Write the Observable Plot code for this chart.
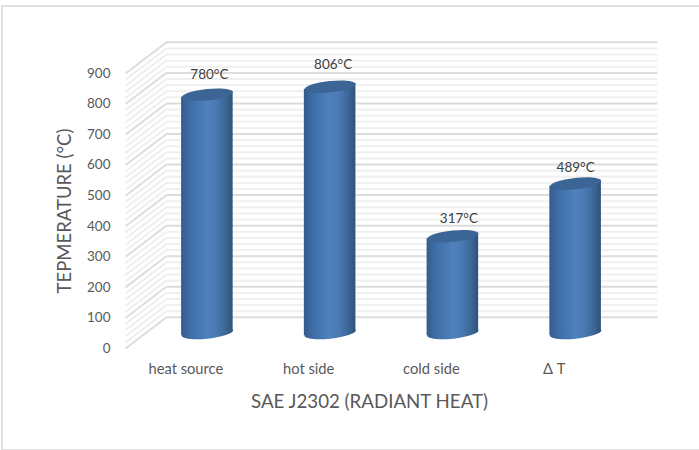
<!DOCTYPE html>
<html>
<head>
<meta charset="utf-8">
<script src="https://cdn.jsdelivr.net/npm/d3@7"></script>
<script src="https://cdn.jsdelivr.net/npm/@observablehq/plot@0.6"></script>
<style>
  html, body { margin: 0; padding: 0; background: #fff; }
  #chart { position: relative; width: 699px; height: 450px; overflow: hidden; }
  #chart svg { display: block; }
</style>
</head>
<body>
<div id="chart"></div>
<script>
const categories = ["heat source", "hot side", "cold side", "\u0394 T"];
const temperatures = [780, 806, 317, 489];
const valueLabels = ["780\u00b0C", "806\u00b0C", "317\u00b0C", "489\u00b0C"];
const majorTicks = [0, 100, 200, 300, 400, 500, 600, 700, 800, 900];
const minorTicks = d3.range(0, 900, 20).filter(v => v % 100 !== 0);
const yTitle = "TEPMERATURE (\u00b0C)";
const xTitle = "SAE J2302 (RADIANT HEAT)";

// 3D depth expressed in scale units
const depthX = 1 / 3;
const depthY = 102;
const left = -0.5, right = 3.5, halfBar = 0.21;
const skew = 8.8; // tilt of the cylinder ends, in value units

const rows = categories.map((c, i) => ({i, c, v: temperatures[i], label: valueLabels[i]}));
// body of each cylinder: left and right edge, both ends following the tilt
const bodyEdges = rows.flatMap(r => [
  {i: r.i, x: r.i - halfBar, y1: -skew, y2: r.v - skew},
  {i: r.i, x: r.i + halfBar, y1: skew, y2: r.v + skew}
]);

const textColor = "#595959";
const font = "Lato, 'Open Sans', sans-serif";

// tilted flat ellipse, size driven by r
const ellipseSymbol = {
  draw(ctx, size) {
    const rx = Math.sqrt(size / Math.PI), ry = rx * 0.22, k = 0.5523, a = -6 * Math.PI / 180;
    const p = (x, y) => [x * Math.cos(a) - y * Math.sin(a), x * Math.sin(a) + y * Math.cos(a)];
    const seg = (a1, a2, a3) => ctx.bezierCurveTo(...p(...a1), ...p(...a2), ...p(...a3));
    ctx.moveTo(...p(rx, 0));
    seg([rx, k * ry], [k * rx, ry], [0, ry]);
    seg([-k * rx, ry], [-rx, k * ry], [-rx, 0]);
    seg([-rx, -k * ry], [-k * rx, -ry], [0, -ry]);
    seg([k * rx, -ry], [rx, -k * ry], [rx, 0]);
    ctx.closePath();
  }
};

const barOffset = {dx: 20.5, dy: -15.5};
const labelNudge = [[22.5, -35.5], [23.5, -37.5], [26.5, -32.5], [20.5, -31.5]];

const plot = Plot.plot({
  width: 699,
  height: 450,
  margin: 0,
  style: {background: "transparent", fontFamily: font, overflow: "visible"},
  x: {type: "linear", domain: [left, right], range: [125, 616], axis: null},
  y: {type: "linear", domain: [0, 900], range: [348, 73], axis: null},
  marks: [
    // side wall stripes
    Plot.link(minorTicks, {x1: left, x2: left + depthX, y1: d => d, y2: d => d + depthY, stroke: "#efefef", strokeWidth: 2}),
    Plot.link(majorTicks, {x1: left, x2: left + depthX, y1: d => d, y2: d => d + depthY, stroke: "#dedede", strokeWidth: 2}),
    // back wall stripes
    Plot.link(minorTicks, {x1: left + depthX, x2: right + depthX, y1: d => d + depthY, y2: d => d + depthY, stroke: "#f0f0f0", strokeWidth: 2}),
    Plot.link(majorTicks, {x1: left + depthX, x2: right + depthX, y1: d => d + depthY, y2: d => d + depthY, stroke: "#dcdcdc", strokeWidth: 2}),
    // cylinders
    Plot.dot(rows, {x: "i", y: () => 0, symbol: ellipseSymbol, r: 25.75, fill: "url(#cyl)", ...barOffset}),
    Plot.area(bodyEdges, {x1: "x", y1: "y1", y2: "y2", z: "i", fill: "url(#cyl)", ...barOffset}),
    Plot.dot(rows, {x: "i", y: "v", symbol: ellipseSymbol, r: 25.75, fill: "#3a6594", ...barOffset}),
    // value labels
    ...rows.map((r, k) => Plot.text([r], {x: "i", y: "v", text: "label", fill: "#404040", fontSize: 13.5, dx: labelNudge[k][0], dy: labelNudge[k][1]})),
    // y tick labels
    Plot.text(majorTicks, {x: left, y: d => d, text: d => String(d), textAnchor: "end", fill: textColor, fontSize: 13.5, dx: -15}),
    // category labels
    Plot.text(rows, {x: "i", y: () => 0, text: "c", fill: textColor, fontSize: 14.7, dy: 21, dx: -1}),
    // axis titles
    Plot.text([xTitle], {x: () => 1.5, y: () => 0, text: d => d, fill: textColor, fontSize: 18.7, dy: 54, dx: -1.5}),
    Plot.text([yTitle], {x: () => left, y: () => 450, text: d => d, fill: textColor, fontSize: 18.5, rotate: -90, dx: -60})
  ]
});

const defs = d3.create("svg:defs");
const grad = defs.append("linearGradient").attr("id", "cyl").attr("x1", 0).attr("x2", 1).attr("y1", 0).attr("y2", 0);
[[0, "#345c8c"], [0.18, "#3f6ea8"], [0.5, "#4f81bd"], [0.68, "#4a7ab4"], [0.88, "#3a6494"], [1, "#2f5278"]]
  .forEach(([o, c]) => grad.append("stop").attr("offset", o).attr("stop-color", c));
plot.insertBefore(defs.node(), plot.firstChild);

// outer chart border
const chart = document.getElementById("chart");
const border = document.createElement("div");
border.style.cssText = "position:absolute;left:1px;top:5px;width:720px;height:442px;border:2px solid #e0e0e0;box-sizing:content-box;pointer-events:none;";
chart.appendChild(plot);
chart.appendChild(border);
</script>
</body>
</html>
